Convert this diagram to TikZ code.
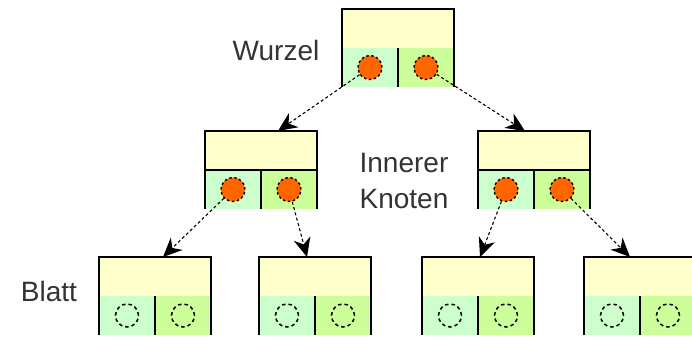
\documentclass[tikz,border=0pt]{standalone}
\usepackage{fontspec}
\setmainfont{Liberation Sans}
\usetikzlibrary{arrows.meta,calc}
\definecolor{cellyellow}{HTML}{FFFFCC}
\definecolor{cellmint}{HTML}{CCFFCC}
\definecolor{celllime}{HTML}{CCFF99}
\definecolor{ptrorange}{HTML}{FF6600}
\tikzset{
  box/.style={inner sep=0pt, outer sep=0pt, minimum width=112pt, minimum height=39pt},
  half/.style={inner sep=0pt, outer sep=0pt, minimum width=56pt, minimum height=39pt},
  border/.style={draw=black, line width=1.5pt},
  fullptr/.style={circle, inner sep=0pt, minimum size=24pt, fill=ptrorange, draw=black,
                  line width=1.4pt, dash pattern=on 2.5pt off 2.5pt},
  nullptr/.style={circle, inner sep=0pt, minimum size=23pt, draw=black,
                  line width=1.5pt, dash pattern=on 3.5pt off 3pt},
  link/.style={draw=black, line width=1.1pt, dash pattern=on 3pt off 2.5pt,
               -{Stealth[length=19pt,width=17pt,inset=6pt]}},
  caption/.style={font=\fontsize{28}{36}\selectfont, text=black!80, inner sep=0pt}
}
% #1 name, #2 left x, #3 top y, #4 pointer style, #5 draw yellow/green rule (1/0)
\newcommand\treecell[5]{%
  \node[box, fill=cellyellow] (#1-top) at (#2+56, #3+19.5) {};
  \node[half, fill=cellmint] (#1-l) at (#2+28, #3+58.5) {};
  \node[half, fill=celllime] (#1-r) at (#2+84, #3+58.5) {};
  \draw[border] (#1-l.south west) |- (#1-top.north east) -- (#1-r.south east);
  \draw[border] (#1-l.north east) -- (#1-l.south east);
  \ifnum#5=1 \draw[border] (#1-top.south west) -- (#1-top.south east);\fi
  \node[#4] (#1-lc) at (#1-l) {};
  \node[#4] (#1-rc) at (#1-r) {};
}
\begin{document}
\begin{tikzpicture}[x=1pt, y=-1pt]
  \clip (0,0) rectangle (692,337);
  \fill[white] (0,0) rectangle (692,337);

  % root
  \treecell{r}{342}{9}{fullptr}{0}
  % inner nodes
  \treecell{ia}{205}{131}{fullptr}{1}
  \treecell{ib}{478}{131}{fullptr}{1}
  % leaves
  \treecell{la}{99}{257}{nullptr}{0}
  \treecell{lb}{259}{257}{nullptr}{0}
  \treecell{lc}{422}{257}{nullptr}{0}
  \treecell{ld}{584}{257}{nullptr}{0}

  % child pointers
  \draw[link] (r-lc) -- ([xshift=17pt]ia-top.north);
  \draw[link] (r-rc) -- ([xshift=-9pt]ib-top.north);
  \draw[link] (ia-lc) -- ([xshift=8pt]la-top.north);
  \draw[link] (ia-rc) -- ([xshift=-8pt]lb-top.north);
  \draw[link] (ib-lc) -- ([xshift=2pt]lc-top.north);
  \draw[link] (ib-rc) -- ([xshift=-10pt]ld-top.north);

  % labels
  \node[caption] (wurzel) at (276,50) {Wurzel};
  \node[caption, align=left] (inner) at (404,181) {Innerer\\Knoten};
  \node[caption] (blatt) at (49,291) {Blatt};
\end{tikzpicture}
\end{document}
